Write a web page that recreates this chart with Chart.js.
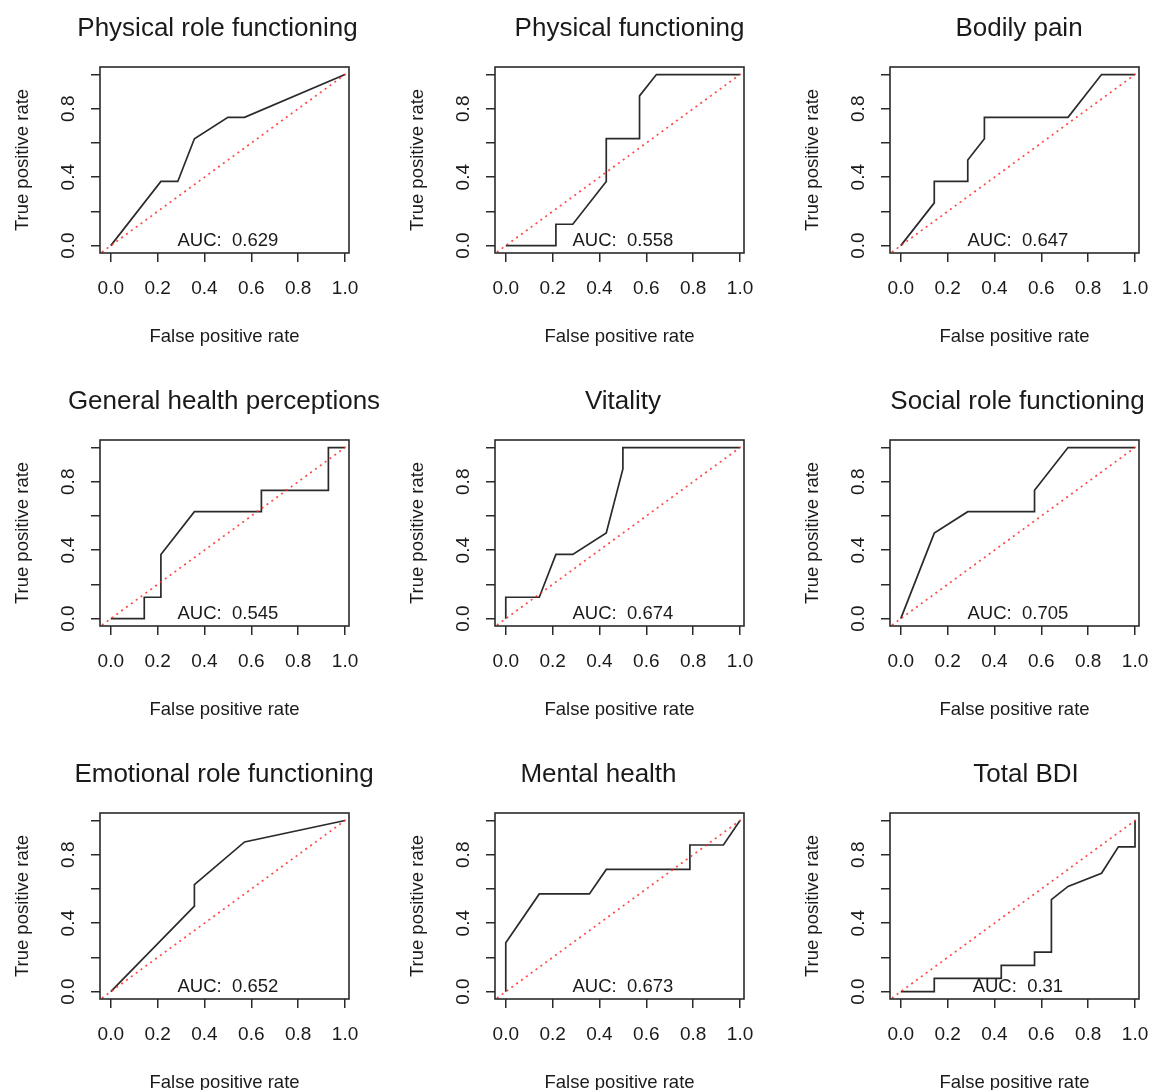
<!DOCTYPE html>
<html>
<head>
<meta charset="utf-8">
<script src="https://cdn.jsdelivr.net/npm/chart.js@4.4.1/dist/chart.umd.min.js"></script>
<style>
  html, body { margin: 0; padding: 0; background: #fff; overflow: hidden; }
  #grid { position: relative; width: 1150px; height: 1090px; overflow: hidden; }
  #grid canvas { position: absolute; }
</style>
</head>
<body>
<div id="grid"></div>
<script>
// Panel titles and AUC values
const TITLES = [
  'Physical role functioning', 'Physical functioning', 'Bodily pain',
  'General health perceptions', 'Vitality', 'Social role functioning',
  'Emotional role functioning', 'Mental health', 'Total BDI'
];
const AUC = [0.629, 0.558, 0.647, 0.545, 0.674, 0.705, 0.652, 0.673, 0.31];

// ROC curves (false positive rate, true positive rate)
const FPR_PHYS_ROLE = [0, 0.214, 0.286, 0.357, 0.5, 0.571, 1];
const TPR_PHYS_ROLE = [0, 0.375, 0.375, 0.625, 0.75, 0.75, 1];

const FPR_PHYS_FUNC = [0, 0.214, 0.214, 0.286, 0.429, 0.429, 0.571, 0.571, 0.643, 1];
const TPR_PHYS_FUNC = [0, 0, 0.125, 0.125, 0.375, 0.625, 0.625, 0.875, 1, 1];

const FPR_PAIN = [0, 0.143, 0.143, 0.286, 0.286, 0.357, 0.357, 0.714, 0.857, 1];
const TPR_PAIN = [0, 0.25, 0.375, 0.375, 0.5, 0.625, 0.75, 0.75, 1, 1];

const FPR_GEN_HEALTH = [0, 0.143, 0.143, 0.214, 0.214, 0.357, 0.643, 0.643, 0.929, 0.929, 1];
const TPR_GEN_HEALTH = [0, 0, 0.125, 0.125, 0.375, 0.625, 0.625, 0.75, 0.75, 1, 1];

const FPR_VITALITY = [0, 0, 0.143, 0.214, 0.286, 0.429, 0.5, 0.5, 1];
const TPR_VITALITY = [0, 0.125, 0.125, 0.375, 0.375, 0.5, 0.875, 1, 1];

const FPR_SOCIAL = [0, 0.143, 0.286, 0.571, 0.571, 0.714, 1];
const TPR_SOCIAL = [0, 0.5, 0.625, 0.625, 0.75, 1, 1];

const FPR_EMO_ROLE = [0, 0.357, 0.357, 0.571, 1];
const TPR_EMO_ROLE = [0, 0.5, 0.625, 0.875, 1];

const FPR_MENTAL = [0, 0, 0.143, 0.357, 0.429, 0.786, 0.786, 0.929, 1];
const TPR_MENTAL = [0, 0.286, 0.571, 0.571, 0.714, 0.714, 0.857, 0.857, 1];

const FPR_BDI = [0, 0.143, 0.143, 0.429, 0.429, 0.571, 0.571, 0.643, 0.643, 0.714, 0.857, 0.929, 1, 1];
const TPR_BDI = [0, 0, 0.077, 0.077, 0.154, 0.154, 0.231, 0.231, 0.538, 0.615, 0.692, 0.846, 0.846, 1];

// Axes
const X_TICKS = [0, 0.2, 0.4, 0.6, 0.8, 1.0];
const Y_TICKS = [0, 0.2, 0.4, 0.6, 0.8, 1.0];
const Y_TICK_LABELS = ['0.0', '', '0.4', '', '0.8', ''];
const CHANCE = [-0.1, 1.1];      // y = x reference line
const AUC_AT = [0.5, 0.035];     // where the AUC text sits, data units

const CURVES = [
  [FPR_PHYS_ROLE, TPR_PHYS_ROLE], [FPR_PHYS_FUNC, TPR_PHYS_FUNC], [FPR_PAIN, TPR_PAIN],
  [FPR_GEN_HEALTH, TPR_GEN_HEALTH], [FPR_VITALITY, TPR_VITALITY], [FPR_SOCIAL, TPR_SOCIAL],
  [FPR_EMO_ROLE, TPR_EMO_ROLE], [FPR_MENTAL, TPR_MENTAL], [FPR_BDI, TPR_BDI]
];

// layout
const PANEL_W = 395, PANEL_H = 373;
const TITLE_SHIFT = [-7, 10, 4.5, -0.5, 3.5, 3, -0.5, -21, 11.5];
const INK = '#1a1a1a';
const LINE = '#2a2a2a';
const RED = 'rgba(255, 40, 40, 0.85)';
const FONT = '"Liberation Sans", Arial, Helvetica, sans-serif';

const rocDecor = {
  id: 'rocDecor',
  afterDraw(chart, args, opts) {
    const { ctx, chartArea: a, scales: { x, y } } = chart;
    ctx.save();
    ctx.strokeStyle = LINE;
    ctx.lineWidth = 1.6;
    ctx.strokeRect(a.left, a.top, a.right - a.left, a.bottom - a.top);

    ctx.fillStyle = INK;
    ctx.textAlign = 'center';
    ctx.textBaseline = 'alphabetic';

    ctx.font = '26px ' + FONT;
    ctx.fillText(opts.title, (a.left + a.right) / 2 + opts.shift, 36);

    // R-style vertical tick labels
    ctx.font = '19px ' + FONT;
    Y_TICKS.forEach((v, i) => {
      if (!Y_TICK_LABELS[i]) return;
      ctx.save();
      ctx.translate(a.left - 25.7, y.getPixelForValue(v));
      ctx.rotate(-Math.PI / 2);
      ctx.fillText(Y_TICK_LABELS[i], 0, 0);
      ctx.restore();
    });

    ctx.font = '18.5px ' + FONT;
    ctx.fillText('AUC:  ' + opts.auc, x.getPixelForValue(AUC_AT[0]), y.getPixelForValue(AUC_AT[1]) + 6.6);
    ctx.restore();
  }
};

Chart.defaults.font.family = FONT;

const grid = document.getElementById('grid');

CURVES.forEach(([fpr, tpr], i) => {
  const canvas = document.createElement('canvas');
  canvas.width = PANEL_W;
  canvas.height = PANEL_H;
  canvas.style.left = (i % 3) * PANEL_W + 'px';
  canvas.style.top = Math.floor(i / 3) * PANEL_H + 'px';
  grid.appendChild(canvas);

  new Chart(canvas, {
    type: 'line',
    data: {
      datasets: [
        {
          data: CHANCE.map(v => ({ x: v, y: v })),
          borderColor: RED,
          borderWidth: 1.7,
          borderDash: [2, 4],
          pointRadius: 0
        },
        {
          data: fpr.map((v, k) => ({ x: v, y: tpr[k] })),
          borderColor: LINE,
          borderWidth: 1.7,
          pointRadius: 0
        }
      ]
    },
    options: {
      responsive: false,
      animation: false,
      layout: { padding: { top: 67, right: 46, bottom: 0, left: 0 } },
      plugins: {
        legend: { display: false },
        tooltip: { enabled: false },
        rocDecor: { title: TITLES[i], auc: AUC[i], shift: TITLE_SHIFT[i] }
      },
      scales: {
        x: {
          type: 'linear',
          min: -0.046,
          max: 1.017,
          afterBuildTicks: s => { s.ticks = X_TICKS.map(v => ({ value: v })); },
          afterFit: s => { s.height = 120; },
          border: { display: false },
          grid: { drawOnChartArea: false, drawTicks: true, tickLength: 9, color: LINE, lineWidth: 1.5 },
          ticks: {
            color: INK,
            padding: 17,
            maxRotation: 0,
            autoSkip: false,
            font: { size: 19, lineHeight: 1 },
            callback: v => v.toFixed(1)
          },
          title: {
            display: true,
            text: 'False positive rate',
            color: INK,
            font: { size: 18.5, lineHeight: 1 },
            padding: { top: 0, bottom: 26.75 }
          }
        },
        y: {
          type: 'linear',
          min: -0.043,
          max: 1.044,
          afterBuildTicks: s => { s.ticks = Y_TICKS.map(v => ({ value: v })); },
          afterFit: s => { s.width = 100; },
          border: { display: false },
          grid: { drawOnChartArea: false, drawTicks: true, tickLength: 9, color: LINE, lineWidth: 1.5 },
          ticks: { display: false },
          title: {
            display: true,
            text: 'True positive rate',
            color: INK,
            font: { size: 18.5, lineHeight: 1 },
            padding: { top: 13.25, bottom: 0 }
          }
        }
      }
    },
    plugins: [rocDecor]
  });
});
</script>
</body>
</html>
